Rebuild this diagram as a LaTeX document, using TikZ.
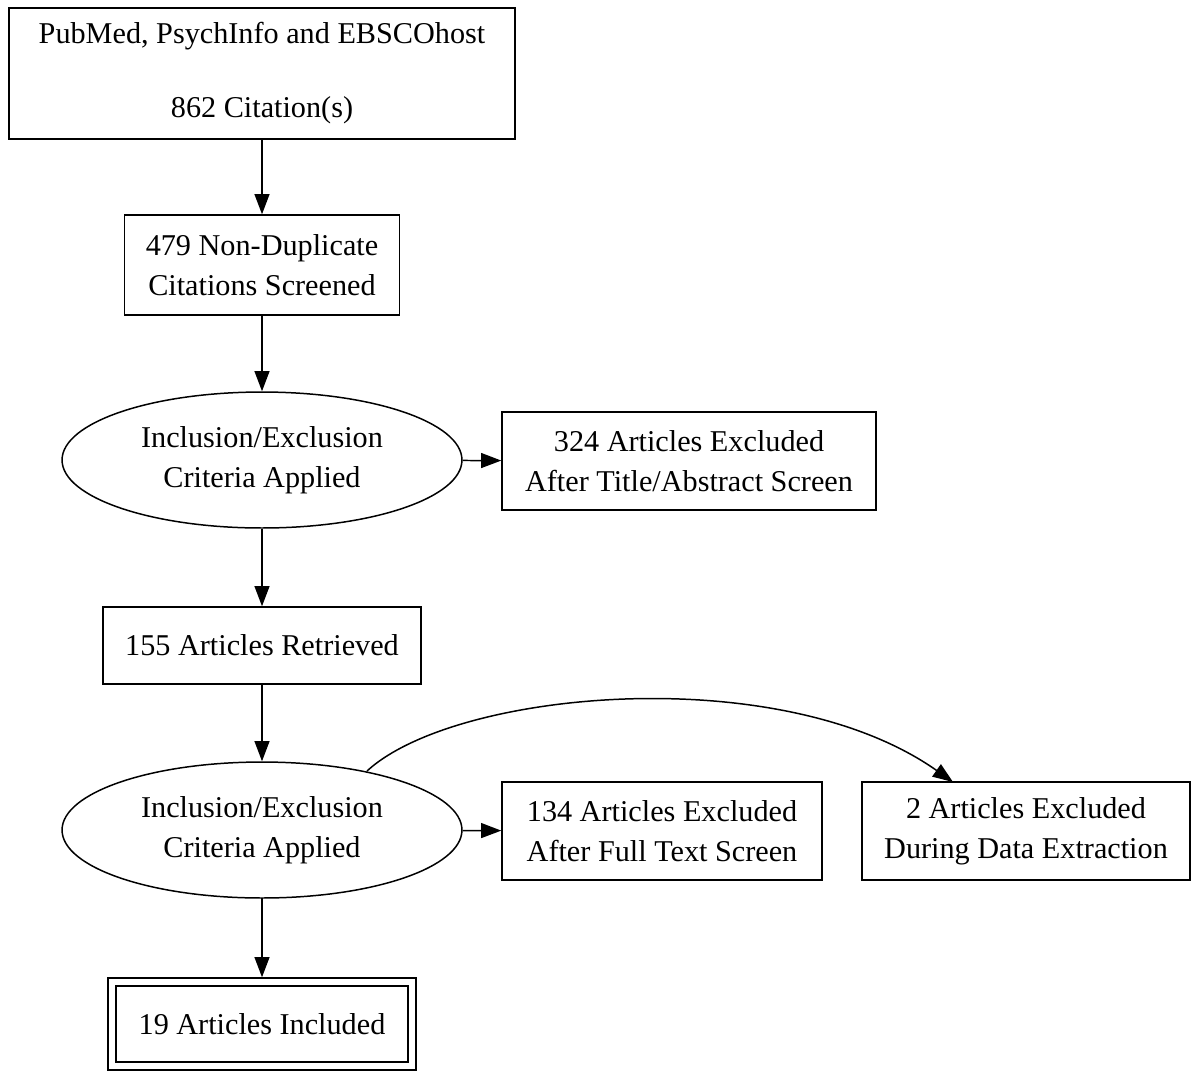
\documentclass[tikz,border=0pt]{standalone}
\usepackage{fontspec}
\setmainfont{Liberation Serif}
\usetikzlibrary{arrows.meta,shapes.geometric}
\begin{document}
\begin{tikzpicture}[x=0.02cm,y=-0.02cm,
  line width=0.85pt,
  every node/.style={font=\fontsize{17.2}{22.8}\selectfont, align=center, inner sep=0pt},
  box/.style={draw, rectangle},
  oval/.style={draw, ellipse, minimum width=8cm, minimum height=2.72cm},
  arr/.style={-{Triangle[length=11.5pt,width=8.5pt]}}
]
\useasboundingbox (0,0) rectangle (1200,1080);
\node[box, minimum width=10.12cm, minimum height=2.62cm] (src) at (262,73.5)
  {PubMed, PsychInfo and EBSCOhost\\[19.3pt]862 Citation(s)};
\node[box, minimum width=5.5cm, minimum height=2.0cm] (dup) at (262,265)
  {479 Non-Duplicate\\Citations Screened};
\node[oval] (crit1) at (262,460) {Inclusion/Exclusion\\Criteria Applied};
\node[box, minimum width=7.48cm, minimum height=1.96cm] (ex1) at (689,461)
  {324 Articles Excluded\\After Title/Abstract Screen};
\node[box, minimum width=6.36cm, minimum height=1.54cm] (ret) at (262,645.5)
  {155 Articles Retrieved};
\node[oval] (crit2) at (262,830) {Inclusion/Exclusion\\Criteria Applied};
\node[box, minimum width=6.4cm, minimum height=1.96cm] (ex2) at (662,831)
  {134 Articles Excluded\\After Full Text Screen};
\node[box, minimum width=6.56cm, minimum height=1.96cm] (ex3) at (1026,831)
  {2 Articles Excluded\\During Data Extraction};
\node[box, minimum width=6.16cm, minimum height=1.84cm] (inc) at (262,1024)
  {19 Articles Included};
\node[box, minimum width=5.84cm, minimum height=1.52cm] (incin) at (262,1024) {};
\coordinate (cs) at (367,771);
\coordinate (ce) at (953,782);
\draw[arr] (src) -- (dup);
\draw[arr] (dup) -- (crit1);
\draw[arr] (crit1) -- (ex1);
\draw[arr] (crit1) -- (ret);
\draw[arr] (ret) -- (crit2);
\draw[arr] (crit2) -- (ex2);
\draw[arr] (crit2) -- (inc);
\draw[arr] (cs) .. controls (455,690) and (780,660) .. (ce);
\end{tikzpicture}
\end{document}
